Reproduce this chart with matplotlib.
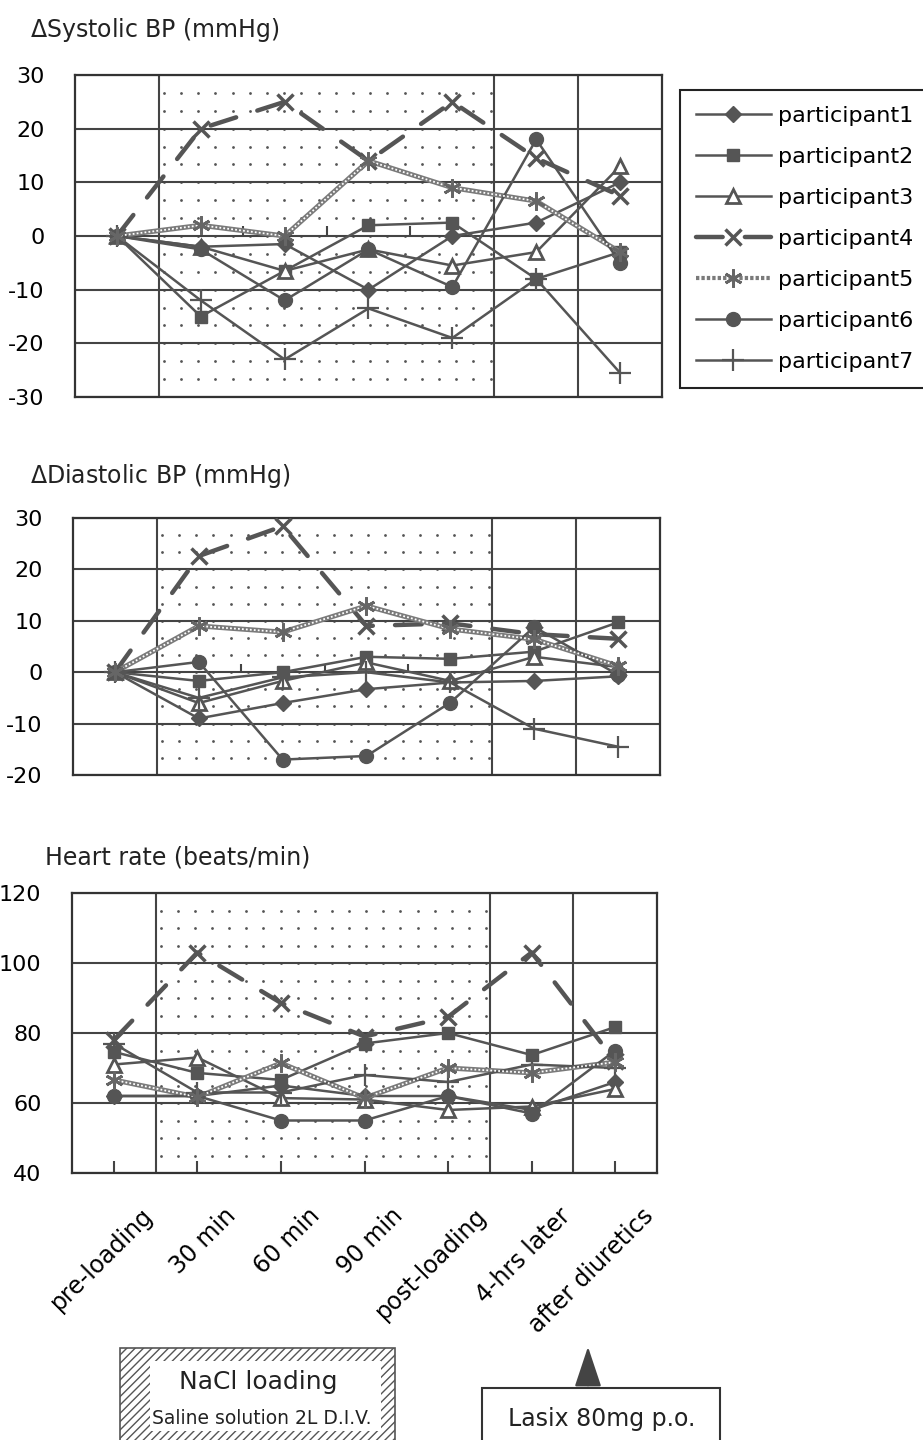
import numpy as np
import matplotlib
matplotlib.use('Agg')
import matplotlib.pyplot as plt
from matplotlib.patches import Rectangle
from matplotlib.lines import Line2D
from matplotlib.transforms import ScaledTranslation

plt.rcParams['font.family'] = ['DejaVu Sans']
plt.rcParams['axes.unicode_minus'] = False

# --- data ---------------------------------------------------------------
timepoints = ['pre-loading', '30 min', '60 min', '90 min', 'post-loading',
              '4-hrs later', 'after diuretics']
participants = ['participant1', 'participant2', 'participant3', 'participant4',
                'participant5', 'participant6', 'participant7']

# delta systolic BP (mmHg)
sbp_p1 = [0, -2, -1.5, -10, 0, 2.5, 10]
sbp_p2 = [0, -15, -6.5, 2, 2.5, -8, -3]
sbp_p3 = [0, -2, -6.5, -2.5, -5.5, -3, 13]
sbp_p4 = [0, 20, 25, 14, 25, 14.5, 7.5]
sbp_p5 = [0, 2, 0, 14, 9, 6.5, -3]
sbp_p6 = [0, -2.5, -12, -2.5, -9.5, 18, -5]
sbp_p7 = [0, -12, -23, -13.5, -19, -8, -25.5]

# delta diastolic BP (mmHg)
dbp_p1 = [0, -9, -6, -3.3, -2, -1.7, -0.8]
dbp_p2 = [0, -1.7, 0, 3, 2.6, 4, 9.7]
dbp_p3 = [0, -6, -1.7, 1.9, -1.7, 3, 1]
dbp_p4 = [0, 22.6, 28.4, 9, 9.5, 7.4, 6.5]
dbp_p5 = [0, 9, 7.8, 12.9, 8.4, 6.4, 1.2]
dbp_p6 = [0, 2, -17, -16.3, -5.9, 8.8, -0.5]
dbp_p7 = [0, -5, -1, 0, -2, -11, -14.5]

# heart rate (beats/min)
hr_p1 = [62, 62, 65, 62, 62, 58, 66]
hr_p2 = [74.6, 68.6, 66.6, 77, 80, 73.7, 81.7]
hr_p3 = [71, 73, 61.4, 61, 58, 59, 64]
hr_p4 = [78, 103, 88.6, 79, 84.6, 103, 72]
hr_p5 = [66.6, 61.7, 71.4, 61.4, 70, 68.6, 71.7]
hr_p6 = [62, 62, 55, 55, 62, 57, 75]
hr_p7 = [77, 63, 63, 68, 66, 71, 70]

# --- styling ------------------------------------------------------------
DARK = '#555555'
GRID = '#444444'
W, H = 923, 1440

styles = [
    dict(marker='D', ms=8, mfc=DARK, mec=DARK, ls='-', lw=1.8),
    dict(marker='s', ms=9, mfc=DARK, mec=DARK, ls='-', lw=1.8),
    dict(marker='^', ms=10, mfc='white', mec=DARK, mew=2, ls='-', lw=1.8),
    dict(marker='x', ms=12, mec=DARK, mew=2.5, ls=(0, (6, 5)), lw=3.2,
         dash_capstyle='round'),
    None,  # chained line, drawn separately
    dict(marker='o', ms=10, mfc=DARK, mec=DARK, ls='-', lw=1.8),
    dict(marker='+', ms=16, mec=DARK, mew=1.6, ls='-', lw=1.8),
]

fig = plt.figure(figsize=(W / 100, H / 100), dpi=100)


def px_axes(left, top, right, bottom):
    return fig.add_axes([left / W, 1 - bottom / H, (right - left) / W, (bottom - top) / H])


def draw_panel(ax, series, ymin, ymax, ystep, dot_step, zero_ticks):
    x = np.arange(len(timepoints))
    ax.set_xlim(-0.5, len(timepoints) - 0.5)
    ax.set_ylim(ymin, ymax)
    ax.set_yticks(np.arange(ymin, ymax + 1, ystep))
    ax.tick_params(axis='y', length=0, pad=22, labelsize=16)
    ax.grid(axis='y', color=GRID, lw=1.5)
    ax.set_axisbelow(True)
    for b in (0.5, 4.5, 5.5):
        ax.axvline(b, color=GRID, lw=1.5, zorder=1)
    for s in ax.spines.values():
        s.set_color('#333333')
        s.set_linewidth(1.6)
    # dotted background of the loading period
    gx, gy = np.meshgrid(np.arange(0.56, 4.5, 0.205), np.arange(ymin, ymax, dot_step))
    ax.scatter(gx.ravel(), gy.ravel(), s=4, color='#555555', zorder=0.5, lw=0)
    if zero_ticks:
        ax.vlines([1.5, 2.5, 3.5], 0, (ymax - ymin) * 0.03, color=GRID, lw=1.5)

    for i, vals in enumerate(series):
        if styles[i] is None:
            ax.plot(x, vals, color='#7a7a7a', lw=3.6, solid_capstyle='round', zorder=3)
            ax.plot(x, vals, color='white', lw=1.3, ls=(0, (1, 1.2)), zorder=3.1)
            ax.plot(x, vals, ls='none', marker=(6, 2, 0), ms=13, mew=2,
                    mec='#666666', zorder=3.2)
        else:
            ax.plot(x, vals, color=DARK, zorder=3, **styles[i])


# top panel
ax1 = px_axes(75, 75, 662, 397)
draw_panel(ax1, [sbp_p1, sbp_p2, sbp_p3, sbp_p4, sbp_p5, sbp_p6, sbp_p7],
           -30, 30, 10, 10 / 3, True)
ax1.set_xticks([])

# middle panel
ax2 = px_axes(73, 518, 660, 775)
draw_panel(ax2, [dbp_p1, dbp_p2, dbp_p3, dbp_p4, dbp_p5, dbp_p6, dbp_p7],
           -20, 30, 10, 10 / 3, True)
ax2.set_xticks([])

# bottom panel
ax3 = px_axes(72, 893, 657, 1173)
draw_panel(ax3, [hr_p1, hr_p2, hr_p3, hr_p4, hr_p5, hr_p6, hr_p7],
           40, 120, 20, 5, False)
ax3.set_xticks(np.arange(len(timepoints)))
ax3.set_xticklabels(timepoints, fontsize=17)
ax3.tick_params(axis='x', direction='in', length=9, width=1.5, color=GRID, pad=28)
shift = ScaledTranslation(0.35, 0, fig.dpi_scale_trans)
for lab in ax3.get_xticklabels():
    lab.set_rotation(45)
    lab.set_ha('right')
    lab.set_va('center')
    lab.set_rotation_mode('anchor')
    lab.set_transform(lab.get_transform() + shift)

# legend proxies
handles = []
for st in styles:
    if st is None:
        handles.append(Line2D([], [], color='#7a7a7a', lw=3, ls=(0, (0.8, 0.5)),
                              marker=(6, 2, 0), ms=13, mew=2, mec='#666666'))
    else:
        handles.append(Line2D([], [], color=DARK, **st))
leg = fig.legend(handles, participants, loc='upper left',
                 bbox_to_anchor=(680 / W, 1 - 90 / H), fontsize=16,
                 handlelength=3.4, handletextpad=0.3, labelspacing=0.95,
                 borderpad=0.7, borderaxespad=0, fancybox=False,
                 edgecolor='#222222', framealpha=1)
leg.get_frame().set_linewidth(1.5)

# overlay in pixel coordinates for titles and the protocol boxes
ov = fig.add_axes([0, 0, 1, 1], zorder=-1)
ov.set_xlim(0, W)
ov.set_ylim(H, 0)
ov.axis('off')

ov.text(30, 30, r'$\mathit{\Delta}$Systolic BP (mmHg)', fontsize=17, va='center', color='#222222')
ov.text(30, 476, r'$\mathit{\Delta}$Diastolic BP (mmHg)', fontsize=17, va='center', color='#222222')
ov.text(45, 857, 'Heart rate (beats/min)', fontsize=17, va='center', color='#222222')

ov.add_patch(Rectangle((120, 1348), 275, 100, facecolor='white', edgecolor='#555555',
                       hatch='////', lw=1.2))
ov.add_patch(Rectangle((150, 1361), 231, 70, facecolor='white', edgecolor='none'))
ov.text(258, 1382, 'NaCl loading', fontsize=18, ha='center', va='center', color='#222222')
ov.text(262, 1418, 'Saline solution 2L D.I.V.', fontsize=13.5, ha='center', va='center',
        color='#222222')

ov.add_patch(Rectangle((482, 1388), 238, 70, facecolor='white', edgecolor='#333333', lw=1.5))
ov.text(602, 1419, 'Lasix 80mg p.o.', fontsize=17, ha='center', va='center', color='#222222')
ov.annotate('', xy=(588, 1344), xytext=(588, 1388),
            arrowprops=dict(arrowstyle='-|>,head_length=0.9,head_width=0.3',
                            color='#444444', lw=1.6, mutation_scale=28))

fig.savefig('out.png', dpi=100, facecolor='white')
